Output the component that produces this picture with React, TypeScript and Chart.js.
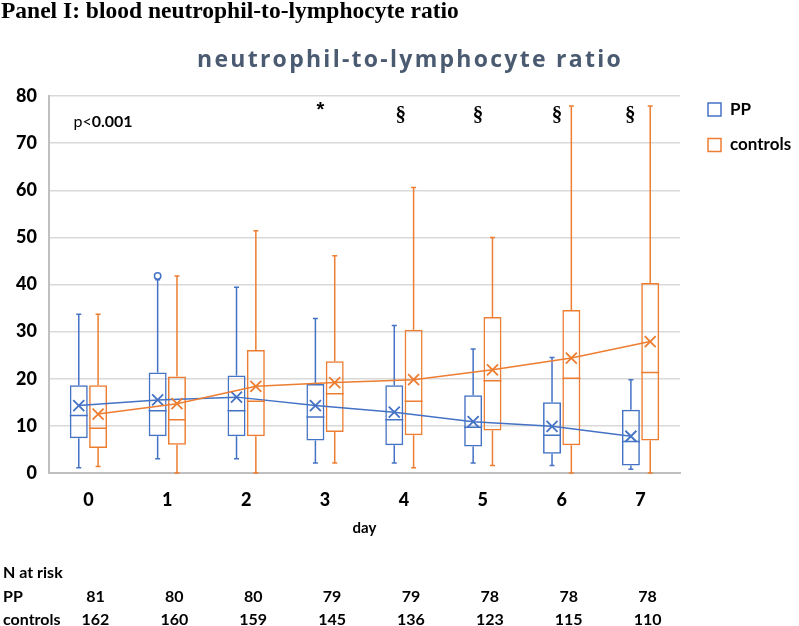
import React, { useEffect, useRef } from "react";
import { Chart, registerables } from "chart.js";

Chart.register(...registerables);

// ---------- data ----------
const days = ["0", "1", "2", "3", "4", "5", "6", "7"];

const ppMin = [1.1, 3.0, 3.0, 2.1, 2.1, 2.1, 1.6, 0.8];
const ppQ1 = [7.4, 7.8, 7.8, 6.9, 5.9, 5.6, 4.1, 1.6];
const ppMedian = [12.2, 13.2, 13.2, 11.9, 11.3, 9.7, 8.0, 6.7];
const ppQ3 = [18.6, 21.3, 20.7, 18.9, 18.6, 16.5, 15.0, 13.4];
const ppMax = [33.7, 41.0, 39.4, 32.8, 31.3, 26.3, 24.5, 19.8];
const ppMean = [14.3, 15.5, 16.1, 14.3, 12.9, 10.9, 9.9, 7.8];
const ppOutliers: number[][] = [[], [41.8], [], [], [], [], [], []];

const ctlMin = [1.4, 0, 0, 2.1, 1.1, 1.6, 0, 0];
const ctlQ1 = [5.3, 6.0, 7.8, 8.7, 8.0, 9.0, 5.9, 6.9];
const ctlMedian = [9.5, 11.3, 15.2, 16.8, 15.2, 19.6, 20.1, 21.3];
const ctlQ3 = [18.6, 20.5, 26.1, 23.7, 30.4, 33.1, 34.6, 40.3];
const ctlMax = [33.7, 41.8, 51.4, 46.1, 60.6, 50.0, 77.9, 77.9];
const ctlMean = [12.5, 14.7, 18.4, 19.2, 19.8, 21.9, 24.4, 27.9];
const ctlOutliers: number[][] = [[], [], [], [], [], [], [], []];

const ppAtRisk = [81, 80, 80, 79, 79, 78, 78, 78];
const ctlAtRisk = [162, 160, 159, 145, 136, 123, 115, 110];

const yMin = 0;
const yMax = 80;
const yStep = 10;

const pValueText = ["p<", "0.001"];
const pValueAt = [-0.19, 74.5];
const markText = ["*", "§", "§", "§", "§"];
const markDay = [2.94, 3.96, 4.94, 5.94, 6.87];
const markValue = [75.8, 74.6, 74.6, 74.6, 74.6];

const panelTitle = "Panel I: blood neutrophil-to-lymphocyte ratio";
const chartTitle = "neutrophil-to-lymphocyte ratio";
const axisTitle = "day";
const seriesNames = ["PP", "controls"];
const atRiskLabels = ["N at risk", "PP", "controls"];

// ---------- style ----------
const PP_COLOR = "#4472C4";
const CTL_COLOR = "#ED7D31";
const FONT = "Lato, 'Open Sans', sans-serif";

export default function App() {
  const ref = useRef<HTMLCanvasElement>(null);

  useEffect(() => {
    document.body.style.margin = "0";
    const canvas = ref.current;
    if (!canvas) return;

    const series = [
      { min: ppMin, q1: ppQ1, med: ppMedian, q3: ppQ3, max: ppMax, mean: ppMean, out: ppOutliers, color: PP_COLOR },
      { min: ctlMin, q1: ctlQ1, med: ctlMedian, q3: ctlQ3, max: ctlMax, mean: ctlMean, out: ctlOutliers, color: CTL_COLOR },
    ];

    const extras = {
      id: "boxExtras",
      afterDatasetsDraw(chart: any) {
        const ctx = chart.ctx as CanvasRenderingContext2D;
        const ys = chart.scales.y;
        series.forEach((s, di) => {
          const meta = chart.getDatasetMeta(di);
          ctx.save();
          ctx.strokeStyle = s.color;
          ctx.fillStyle = s.color;
          ctx.lineWidth = 1.5;
          meta.data.forEach((bar: any, j: number) => {
            const { x, width } = bar.getProps(["x", "width"], true);
            const pMin = ys.getPixelForValue(s.min[j]);
            const pQ1 = ys.getPixelForValue(s.q1[j]);
            const pMed = ys.getPixelForValue(s.med[j]);
            const pQ3 = ys.getPixelForValue(s.q3[j]);
            const pMax = ys.getPixelForValue(s.max[j]);
            ctx.beginPath();
            ctx.moveTo(x, pQ3);
            ctx.lineTo(x, pMax);
            ctx.moveTo(x - 2.5, pMax);
            ctx.lineTo(x + 2.5, pMax);
            ctx.moveTo(x, pQ1);
            ctx.lineTo(x, pMin);
            ctx.moveTo(x - 2.5, pMin);
            ctx.lineTo(x + 2.5, pMin);
            ctx.moveTo(x - width / 2, pMed);
            ctx.lineTo(x + width / 2, pMed);
            ctx.stroke();
            s.out[j].forEach((v) => {
              ctx.beginPath();
              ctx.arc(x, ys.getPixelForValue(v), 3.2, 0, Math.PI * 2);
              ctx.stroke();
            });
          });
          ctx.beginPath();
          meta.data.forEach((bar: any, j: number) => {
            const { x } = bar.getProps(["x"], true);
            const py = ys.getPixelForValue(s.mean[j]);
            if (j === 0) ctx.moveTo(x, py);
            else ctx.lineTo(x, py);
          });
          ctx.stroke();
          ctx.lineWidth = 1.8;
          meta.data.forEach((bar: any, j: number) => {
            const { x } = bar.getProps(["x"], true);
            const py = ys.getPixelForValue(s.mean[j]);
            const r = 5.5;
            ctx.beginPath();
            ctx.moveTo(x - r, py - r);
            ctx.lineTo(x + r, py + r);
            ctx.moveTo(x - r, py + r);
            ctx.lineTo(x + r, py - r);
            ctx.stroke();
          });
          ctx.restore();
        });
      },
      afterDraw(chart: any) {
        const ctx = chart.ctx as CanvasRenderingContext2D;
        const xs = chart.scales.x;
        const ys = chart.scales.y;
        const area = chart.chartArea;
        ctx.save();

        // panel title
        ctx.fillStyle = "#000";
        ctx.textAlign = "left";
        ctx.textBaseline = "alphabetic";
        ctx.font = "bold 23.5px 'Liberation Serif', 'Times New Roman', serif";
        ctx.fillText(panelTitle, 1, 18);

        // chart title
        ctx.font = "bold 23px 'Open Sans', sans-serif";
        ctx.fillStyle = "#4A5A70";
        const natural = ctx.measureText(chartTitle).width;
        const targetW = 426;
        const anyCtx = ctx as any;
        let w = natural;
        if ("letterSpacing" in anyCtx) {
          anyCtx.letterSpacing = Math.max(0, (targetW - natural) / chartTitle.length).toFixed(2) + "px";
          w = ctx.measureText(chartTitle).width;
        }
        ctx.fillText(chartTitle, 410 - w / 2, 67);
        if ("letterSpacing" in anyCtx) anyCtx.letterSpacing = "0px";

        // legend
        seriesNames.forEach((name, k) => {
          const lx = area.right + 28;
          const cy = area.top + 13.5 + k * 35.5;
          ctx.fillStyle = "#fff";
          ctx.fillRect(lx, cy - 6.5, 13, 13);
          ctx.strokeStyle = series[k].color;
          ctx.lineWidth = 1.5;
          ctx.strokeRect(lx, cy - 6.5, 13, 13);
          ctx.fillStyle = "#000";
          ctx.font = `bold 17px ${FONT}`;
          ctx.textBaseline = "middle";
          ctx.textAlign = "left";
          ctx.fillText(name, lx + 22, cy);
        });

        // p-value
        ctx.fillStyle = "#000";
        ctx.textBaseline = "middle";
        ctx.textAlign = "left";
        const px = xs.getPixelForValue(pValueAt[0]);
        const py = ys.getPixelForValue(pValueAt[1]);
        ctx.font = `16px ${FONT}`;
        ctx.fillText(pValueText[0], px, py);
        const pw = ctx.measureText(pValueText[0]).width;
        ctx.font = `bold 16px ${FONT}`;
        ctx.fillText(pValueText[1], px + pw, py);

        // significance marks
        ctx.textAlign = "center";
        ctx.textBaseline = "alphabetic";
        markText.forEach((t, i) => {
          ctx.font = t === "*" ? "bold 20px 'Liberation Sans', sans-serif" : "bold 21px 'Liberation Serif', serif";
          ctx.fillText(t, xs.getPixelForValue(markDay[i]), ys.getPixelForValue(markValue[i]));
        });

        // N at risk table
        ctx.font = `bold 16px ${FONT}`;
        ctx.textBaseline = "middle";
        ctx.textAlign = "left";
        const rowY = [573, 597, 620];
        atRiskLabels.forEach((t, r) => ctx.fillText(t, 3, rowY[r]));
        ctx.textAlign = "center";
        days.forEach((_, i) => {
          const x = xs.getPixelForValue(i) + 7;
          ctx.fillText(String(ppAtRisk[i]), x, rowY[1]);
          ctx.fillText(String(ctlAtRisk[i]), x, rowY[2]);
        });

        ctx.restore();
      },
    };

    const chart = new Chart(canvas, {
      type: "bar",
      data: {
        labels: days,
        datasets: [
          {
            label: seriesNames[0],
            data: days.map((_, i) => [ppQ1[i], ppQ3[i]]) as any,
            backgroundColor: "rgba(255,255,255,0)",
            borderColor: PP_COLOR,
            borderWidth: 1.5,
            borderSkipped: false,
            categoryPercentage: 0.49,
            barPercentage: 0.93,
          },
          {
            label: seriesNames[1],
            data: days.map((_, i) => [ctlQ1[i], ctlQ3[i]]) as any,
            backgroundColor: "rgba(255,255,255,0)",
            borderColor: CTL_COLOR,
            borderWidth: 1.5,
            borderSkipped: false,
            categoryPercentage: 0.49,
            barPercentage: 0.93,
          },
        ],
      },
      options: {
        responsive: false,
        animation: false,
        devicePixelRatio: 1,
        layout: { padding: { left: 0, right: 119, top: 96, bottom: 0 } },
        plugins: {
          legend: { display: false },
          title: { display: false },
          tooltip: { enabled: false },
        },
        scales: {
          x: {
            type: "category",
            grid: { display: false, drawTicks: false },
            border: { display: true, color: "#bfbfbf", width: 2 },
            ticks: {
              font: { family: FONT, weight: 900, size: 18 },
              color: "#000",
              padding: 16,
              maxRotation: 0,
            },
            title: {
              display: true,
              text: axisTitle,
              font: { family: FONT, weight: "bold", size: 15 },
              color: "#000",
              padding: { top: 0, bottom: 89 },
            },
            afterFit: (s: any) => {
              s.height = 153;
            },
          },
          y: {
            min: yMin,
            max: yMax,
            grid: { color: "#d9d9d9", lineWidth: 1.5, drawTicks: false },
            border: { display: true, color: "#bfbfbf", width: 2 },
            ticks: {
              stepSize: yStep,
              font: { family: FONT, weight: 900, size: 18 },
              color: "#000",
              padding: 12,
            },
            afterFit: (s: any) => {
              s.width = 49;
            },
          },
        },
      },
      plugins: [extras],
    } as any);

    return () => chart.destroy();
  }, []);

  return (
    <div style={{ position: "fixed", left: 0, top: 0, width: 799, height: 626, background: "#fff" }}>
      <canvas ref={ref} width={799} height={626} style={{ display: "block", width: 799, height: 626 }} />
    </div>
  );
}
